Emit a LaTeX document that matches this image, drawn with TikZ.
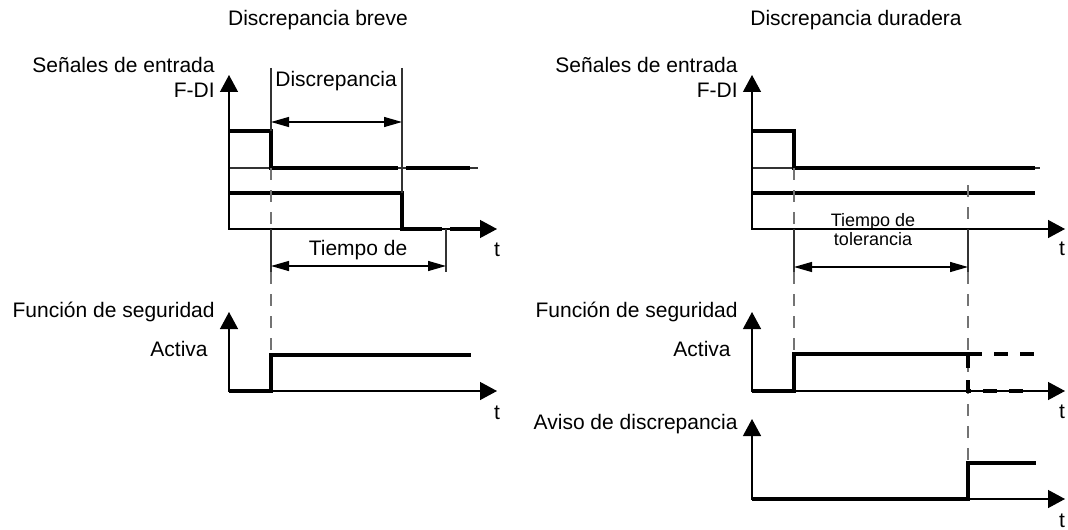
\documentclass[tikz,border=0pt]{standalone}
\usepackage{fontspec}
\setmainfont{Liberation Sans}
\usetikzlibrary{arrows.meta}

\begin{document}
\begin{tikzpicture}[
  x=0.5pt, y=-0.5pt,
  font=\fontsize{10.5}{12}\selectfont,
  axes/.style   = {line width=0.65pt, {Triangle[length=8.5pt,width=9pt]}-{Triangle[length=8.5pt,width=9pt]}},
  thin/.style   = {line width=0.65pt, black!80},
  level/.style  = {line width=1.8pt, line join=miter},
  guide/.style  = {line width=0.6pt, black!55, dash pattern=on 6pt off 5pt},
  alt/.style    = {line width=1.8pt, dash pattern=on 7pt off 6pt},
  span/.style   = {line width=0.65pt,
                   {Triangle[length=9pt,width=5pt]}-{Triangle[length=9pt,width=5pt]}},
  lbl/.style    = {inner sep=0pt}
]
\useasboundingbox (0,0) rectangle (1068,529);

% short discrepancy
\node[lbl, anchor=base] (brevetitle) at (318,26) {Discrepancia breve};
\node[lbl, anchor=base east] (inbreve) at (215,73) {Señales de entrada};
\node[lbl, anchor=base east] (fdibreve) at (215,98) {F-DI};
\node[lbl, anchor=base west] (discbreve) at (275,87) {Discrepancia};
\node[lbl, anchor=base] (tolbreve) at (358,255) {Tiempo de};
\node[lbl, anchor=base] (tbreve) at (497,256) {t};
\node[lbl, anchor=base east] (funcbreve) at (215,317) {Función de seguridad};
\node[lbl, anchor=base east] (actbreve) at (208,356) {Activa};
\node[lbl, anchor=base] (tfuncbreve) at (497,419) {t};

\draw[thin] (229,168) -- (478,168);
\draw[axes] (229,75) -- (229,229) -- (497,229);
\draw[level] (229,131) -- (271,131) -- (271,168) -- (398,168);
\draw[level] (406,168) -- (470,168);
\draw[level] (229,193) -- (402,193) -- (402,229) -- (442,229);
\draw[level] (450,229) -- (482,229);

\draw[thin] (271,68) -- (271,131);
\draw[thin] (402,68) -- (402,193);
\draw[guide] (271,168) -- (271,229);
\draw[thin] (271,229) -- (271,272);
\draw[thin] (446,229) -- (446,272);
\draw[guide] (271,272) -- (271,355);
\draw[span] (271,122) -- (402,122);
\draw[span] (271,266) -- (446,266);

\draw[axes] (229,312) -- (229,391) -- (497,391);
\draw[level] (229,391) -- (271,391) -- (271,355) -- (471,355);

% lasting discrepancy
\node[lbl, anchor=base] (duratitle) at (856,26) {Discrepancia duradera};
\node[lbl, anchor=base east] (indura) at (738,73) {Señales de entrada};
\node[lbl, anchor=base east] (fdidura) at (738,98) {F-DI};
\node[lbl, anchor=base, align=center, font=\fontsize{9}{7.5}\selectfont]
  (toldura) at (873,245) {Tiempo de\\tolerancia};
\node[lbl, anchor=base] (tdura) at (1062,255) {t};
\node[lbl, anchor=base east] (funcdura) at (738,317) {Función de seguridad};
\node[lbl, anchor=base east] (actdura) at (731,356) {Activa};
\node[lbl, anchor=base] (tfuncdura) at (1062,418) {t};
\node[lbl, anchor=base east] (avisodura) at (738,429) {Aviso de discrepancia};
\node[lbl, anchor=base] (tavisodura) at (1062,527) {t};

\draw[thin] (752,168) -- (1040,168);
\draw[axes] (752,75) -- (752,229) -- (1065,229);
\draw[level] (752,131) -- (794,131) -- (794,168) -- (1035,168);
\draw[level] (752,193) -- (1035,193);

\draw[guide] (794,168) -- (794,229);
\draw[thin] (794,229) -- (794,272);
\draw[guide] (794,272) -- (794,354);
\draw[guide] (968,185) -- (968,229);
\draw[thin] (968,229) -- (968,272);
\draw[guide] (968,272) -- (968,463);
\draw[span] (794,267) -- (968,267);

\draw[axes] (752,312) -- (752,391) -- (1065,391);
\draw[level] (752,391) -- (794,391) -- (794,354) -- (968,354);
\draw[alt] (968,354) -- (1034,354);
\draw[alt] (968,354) -- (968,391) -- (1030,391);

\draw[axes] (752,419) -- (752,499) -- (1065,499);
\draw[level] (752,499) -- (968,499) -- (968,463) -- (1036,463);

\end{tikzpicture}
\end{document}
